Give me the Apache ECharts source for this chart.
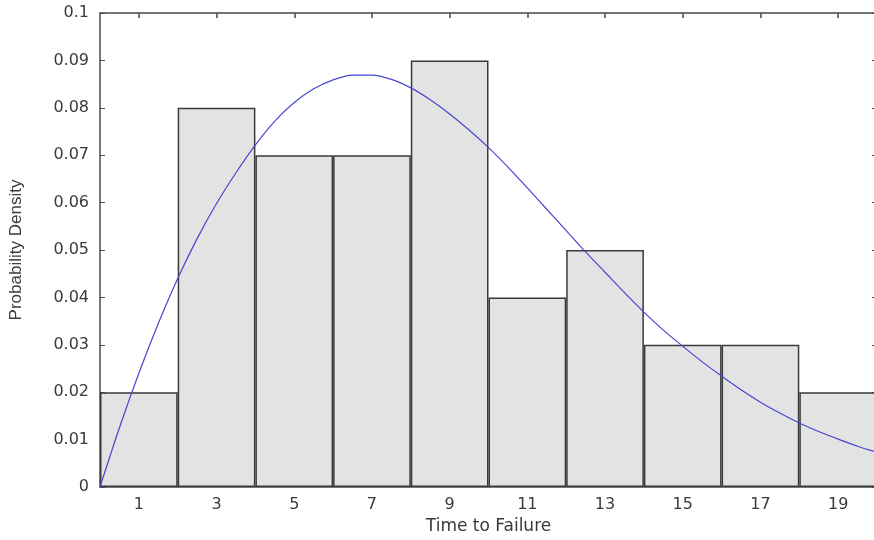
<!DOCTYPE html>
<html style="height: 100%">
<head>
<meta charset="utf-8">
<script src="https://cdn.jsdelivr.net/npm/echarts@6/dist/echarts.min.js"></script>
</head>
<body style="height: 100%; margin: 0; background: #fff">
<div id="container" style="width: 874px; height: 540px"></div>
<script type="text/javascript">
// histogram bins (centres) and heights
var binLabels = ['1', '3', '5', '7', '9', '11', '13', '15', '17', '19'];
var binDensity = [0.02, 0.08, 0.07, 0.07, 0.09, 0.04, 0.05, 0.03, 0.03, 0.02];

// fitted density curve
var curveX = [0, 0.5, 1, 1.5, 2, 2.5, 3, 3.5, 4, 4.5, 5, 5.5, 6, 6.5, 7, 7.5, 8, 8.5, 9, 9.5,
              10, 10.5, 11, 11.5, 12, 12.5, 13, 13.5, 14, 14.5, 15, 15.5, 16, 16.5, 17, 17.5, 18, 18.5, 19, 19.5, 20];
var curveY = [0, 0.0125, 0.0240, 0.0345, 0.0440, 0.0524, 0.0598, 0.0663, 0.0722, 0.0772, 0.0811, 0.0840, 0.0859, 0.0869, 0.0869, 0.0860, 0.0842, 0.0817, 0.0787, 0.0753,
              0.0716, 0.0675, 0.0631, 0.0586, 0.0541, 0.0496, 0.0453, 0.0410, 0.0369, 0.0331, 0.0297, 0.0264, 0.0234, 0.0205, 0.0179, 0.0156, 0.0135, 0.0117, 0.0101, 0.0086, 0.0073];

var curve = [];
for (var i = 0; i < curveX.length; i++) {
	curve.push([curveX[i], curveY[i]]);
}

var axisColor = '#4a4a4a';
var textColor = '#3a3a3a';
var font = 'DejaVu Sans';

var myChart = echarts.init(document.getElementById('container'));

var option = {
	animation: false,
	grid: {
		left: 100,
		right: -3,
		top: 13,
		bottom: 53,
		outerBoundsMode: 'none'
	},
	xAxis: [{
		type: 'category',
		data: binLabels,
		position: 'bottom',
		name: 'Time to Failure',
		nameLocation: 'middle',
		nameGap: 30,
		nameTextStyle: { color: textColor, fontFamily: font, fontSize: 17 },
		axisLine: { onZero: false, lineStyle: { color: axisColor, width: 1.5 } },
		axisTick: { inside: true, alignWithLabel: true, length: 5, lineStyle: { color: axisColor } },
		axisLabel: { color: textColor, fontFamily: font, fontSize: 16, margin: 10 },
		splitLine: { show: false }
	}, {
		type: 'category',
		data: binLabels,
		position: 'top',
		axisLine: { onZero: false, lineStyle: { color: axisColor, width: 1.5 } },
		axisTick: { show: true, inside: true, alignWithLabel: true, length: 5, lineStyle: { color: axisColor, width: 1.5 } },
		// labels kept (invisible) so the ticks line up with the bin centres
		axisLabel: { show: true, color: 'rgba(0,0,0,0)', fontSize: 10 },
		splitLine: { show: false }
	}, {
		type: 'value',
		min: 0,
		max: 20,
		show: false
	}],
	yAxis: [{
		type: 'value',
		min: 0,
		max: 0.1,
		interval: 0.01,
		position: 'left',
		name: 'Probability Density',
		nameLocation: 'middle',
		nameGap: 75,
		nameTextStyle: { color: textColor, fontFamily: 'Liberation Sans', fontSize: 17 },
		axisLine: { show: true, onZero: false, lineStyle: { color: axisColor, width: 1.5 } },
		axisTick: { show: true, inside: true, length: 5, lineStyle: { color: axisColor } },
		axisLabel: { color: textColor, fontFamily: font, fontSize: 16, margin: 11 },
		splitLine: { show: false }
	}, {
		type: 'value',
		min: 0,
		max: 0.1,
		interval: 0.01,
		position: 'right',
		axisLine: { show: true, onZero: false, lineStyle: { color: axisColor, width: 1.5 } },
		axisTick: { show: true, inside: true, length: 5, lineStyle: { color: axisColor } },
		axisLabel: { show: false },
		splitLine: { show: false }
	}],
	series: [{
		type: 'bar',
		xAxisIndex: 0,
		yAxisIndex: 0,
		data: binDensity,
		barWidth: '100%',
		barCategoryGap: 0,
		itemStyle: {
			color: '#e3e3e3',
			borderColor: '#3a3a3a',
			borderWidth: 1.5
		},
		z: 2
	}, {
		type: 'line',
		xAxisIndex: 2,
		yAxisIndex: 0,
		data: curve,
		smooth: 0.3,
		showSymbol: false,
		lineStyle: { color: '#4646d2', width: 1.2 },
		z: 5
	}]
};

myChart.setOption(option);
</script>
</body>
</html>
